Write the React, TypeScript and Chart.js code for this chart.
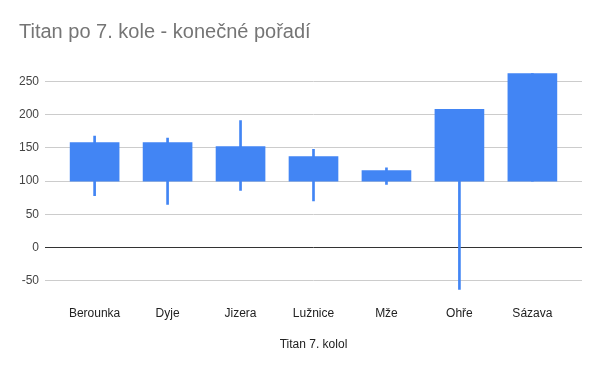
import React, { useEffect, useRef } from "react";
import { Chart, registerables } from "chart.js";

Chart.register(...registerables);

const categories = ["Berounka", "Dyje", "Jizera", "Lužnice", "Mže", "Ohře", "Sázava"];
const openValues = [100, 100, 100, 100, 100, 100, 100];
const closeValues = [158, 158, 152, 137, 116, 208, 262];
const lowValues = [78, 65, 86, 70, 95, -63, 100];
const highValues = [168, 165, 191, 148, 120, 208, 262];
const yTicks = [-50, 0, 50, 100, 150, 200, 250];

const titleText = "Titan po 7. kole - konečné pořadí";
const xTitleText = "Titan 7. kolol";

const FONT = "'Liberation Sans', Arial, sans-serif";
const BLUE = "#4285F4";

export default function App() {
  const ref = useRef<HTMLCanvasElement | null>(null);

  useEffect(() => {
    if (!ref.current) return;
    const chart = new Chart(ref.current, {
      type: "bar",
      data: {
        datasets: [
          {
            label: "box",
            data: categories.map((_, i) => ({ x: i, y: [openValues[i], closeValues[i]] })) as any,
            backgroundColor: BLUE,
            borderWidth: 0,
            barThickness: 49,
            grouped: false,
          } as any,
          {
            label: "wick",
            data: categories.map((_, i) => ({ x: i, y: [lowValues[i], highValues[i]] })) as any,
            backgroundColor: BLUE,
            borderWidth: 0,
            barThickness: 2,
            grouped: false,
          } as any,
        ],
      },
      options: {
        animation: false,
        responsive: false,
        maintainAspectRatio: false,
        layout: { padding: { left: 19, right: 18, top: 0, bottom: 0 } },
        plugins: {
          legend: { display: false },
          tooltip: { enabled: false },
          title: {
            display: true,
            text: titleText,
            align: "start",
            color: "#757575",
            font: { family: FONT, size: 20, weight: "normal" },
            padding: { top: 20, bottom: 17.6 },
          },
        },
        scales: {
          x: {
            type: "linear",
            min: -0.68,
            max: 6.68,
            offset: false,
            grid: { display: false, drawTicks: false },
            border: { display: false },
            ticks: {
              stepSize: 1,
              includeBounds: false,
              autoSkip: false,
              maxRotation: 0,
              padding: 12,
              color: "#222222",
              font: { family: FONT, size: 12 },
              callback: (v: any) => {
                const n = Number(v);
                return Number.isInteger(n) ? categories[n] ?? "" : "";
              },
            },
            title: {
              display: true,
              text: xTitleText,
              color: "#222222",
              font: { family: FONT, size: 12 },
              padding: { top: 19, bottom: 19 },
            },
            afterFit: (s: any) => {
              s.height = 77;
            },
          } as any,
          y: {
            type: "linear",
            min: -70,
            max: 280,
            grid: {
              drawTicks: false,
              color: (ctx: any) => (ctx.tick && ctx.tick.value === 0 ? "#333333" : "#cccccc"),
              lineWidth: 1,
            },
            border: { display: false },
            afterBuildTicks: (s: any) => {
              s.ticks = yTicks.map((v) => ({ value: v }));
            },
            ticks: {
              padding: 6,
              color: "#444444",
              font: { family: FONT, size: 12 },
            },
            afterFit: (s: any) => {
              s.width = 26;
            },
          } as any,
        },
      } as any,
    });
    return () => chart.destroy();
  }, []);

  return (
    <div style={{ position: "fixed", left: 0, top: 0, width: 600, height: 371, background: "#fff" }}>
      <canvas ref={ref} width={600} height={371} style={{ width: 600, height: 371 }} />
    </div>
  );
}
